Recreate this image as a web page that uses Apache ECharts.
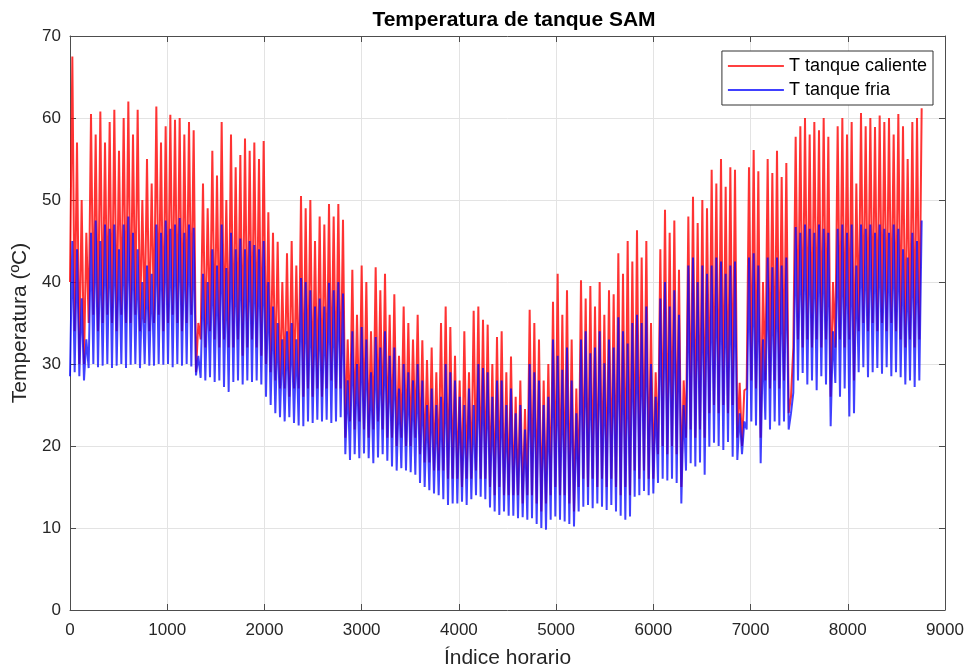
<!DOCTYPE html>
<html lang="es">
<head>
<meta charset="UTF-8">
<title>Temperatura de tanque SAM</title>
<script src="https://cdn.jsdelivr.net/npm/echarts@6/dist/echarts.min.js"></script>
<style>
  html, body { margin: 0; padding: 0; background: #fff; }
  #main { width: 975px; height: 671px; }
</style>
</head>
<body>
<div id="main"></div>
<script>
// one peak and one trough per 48 h block (ºC)
var blockHours = 48;

var hotPeak = [
  67.5, 57, 50, 46,
  60.5, 58, 60.8, 57, 59.5, 61, 56, 60, 62, 58,
  61, 50, 55, 52,
  61.4, 57, 59, 60.4, 59.8, 60, 58, 59.5, 58.5,
  35,
  52, 49, 56, 53, 59.5, 50, 58,
  54, 55.5, 57.5, 56, 57, 55, 57.2,
  48.5, 46, 44.9, 40,
  43.5, 45, 42,
  50.5, 49, 50, 45, 48, 47, 49.5, 48, 49.5, 47.6,
  33,
  41.5, 36, 42, 40, 34, 41.8, 39, 41, 36,
  38.5, 31, 37, 35, 33, 36,
  32.9, 30.5, 32, 29, 35,
  37, 34.5, 31,
  28, 34, 29, 36.5,
  37, 35.4, 34.8,
  30, 33.3, 34, 29, 30.9,
  26, 28, 24.5,
  36.6, 35, 33,
  28, 30,
  37.6, 41, 36, 39,
  33, 27,
  40.2, 38, 39.5, 37, 40, 36, 39, 38.5,
  43.5, 41, 45, 42.5,
  46.3, 43, 45,
  35, 29,
  44, 48.8, 46, 47.5, 41.5,
  28,
  48, 50.4, 47.2, 50, 49,
  53.7, 52, 55, 51.6, 54, 53.7,
  27.7, 26.8,
  54, 56.1, 53.5, 40, 55, 53.3, 56, 52.8, 54.5,
  26,
  57.7, 59, 60, 58, 59.5, 58.5, 60, 57.7,
  40,
  59, 60, 58, 59.5, 52,
  60.6, 59, 60, 58.9, 60.3, 59.5, 60, 58, 60.5, 59, 55, 59.5, 60, 61.2
];

var hotLow = [
  40, 34, 30, 30,
  35, 36, 34, 35, 36, 35, 34, 36, 35, 35,
  36, 34, 35, 34,
  35, 36, 34, 35, 36, 35, 34, 35, 36,
  29,
  33, 32, 34, 33, 32, 33, 32,
  32, 33, 31, 32, 33, 32, 31,
  30, 29, 28, 27,
  27, 26, 27,
  27, 26, 27, 26, 27, 26, 27, 28, 27, 27,
  21,
  23, 22, 23, 22, 21, 22, 23, 22, 21,
  21, 20, 21, 20, 20, 21,
  19, 18, 18, 17, 17,
  17, 16, 16,
  16, 15, 16, 16,
  17, 16, 16,
  15, 14, 15, 14, 14,
  14, 14, 13,
  14, 14, 13,
  12, 13,
  14, 15, 14, 14,
  13, 12,
  15, 16, 15, 16, 15, 16, 15, 16,
  15, 14, 15, 14,
  17, 16, 17,
  16, 16,
  19, 20, 19, 20, 19,
  15,
  21, 22, 21, 22, 21,
  24, 25, 24, 25, 24, 25,
  21, 20,
  27, 28, 27, 21, 28, 27, 28, 27, 28,
  24,
  32, 33, 32, 33, 32, 33, 32, 33,
  26,
  32, 33, 32, 33, 28,
  34, 35, 34, 35, 34, 35, 34, 35, 34, 33, 32, 33, 32, 33
];

var coldPeak = [
  45, 44, 38, 33,
  46, 47.5, 45, 47, 46.5, 47, 44, 47, 48, 46,
  44, 40, 42, 41,
  47, 46, 47.5, 46.5, 47, 47.8, 46, 47, 46.6,
  31,
  41, 40, 44, 42, 47, 41.7, 46,
  44, 45.3, 44, 45, 44.5, 44, 45,
  40, 37, 35, 33,
  34, 35, 33,
  40.5, 40, 39, 37, 38, 37, 39.9, 39, 40, 38.6,
  28,
  34, 30, 34.5, 33, 29, 33.3, 32, 34, 31,
  32, 27, 30, 29, 28, 30,
  28, 25, 27, 25, 26,
  30, 29, 28,
  26, 25, 27, 25,
  30, 29.5, 29,
  26, 28, 28, 25, 27,
  24, 25, 22,
  30, 29, 28,
  25, 26,
  33, 31, 29.3, 32,
  28, 24,
  33, 34, 31.3, 32, 34, 30.1, 33, 32,
  35.7, 34, 32.5, 35,
  36, 35, 37,
  30, 26,
  38, 40, 37, 39, 36,
  25,
  42, 43, 40, 42, 41,
  42, 43, 42.5, 41, 42, 42.5,
  24, 23,
  43, 43.5, 42, 33, 43, 41.8, 43, 42, 43,
  24,
  46.7, 46, 47, 46.5, 46, 47, 46.5, 46,
  34,
  46.5, 47, 46, 47, 42,
  47, 46.5, 47, 46, 47, 46.5, 46, 47, 46.5, 44, 43, 46, 45, 47.5
];

var coldLow = [
  28.5, 29, 28.5, 28,
  29.5, 30, 29.6, 29.8, 30, 29.5, 29.8, 30, 29.5, 29.9,
  30, 29.5, 30, 29.8,
  29.8, 30, 29.9, 30, 29.6, 30, 29.8, 30, 29.7,
  28.6,
  28.3, 28, 28.4, 27.8, 28, 27.2, 26.6,
  27.8, 28, 27.5, 28, 27.8, 28, 27.5,
  26, 25, 24, 23.5,
  23, 23.5, 22.8,
  22.5, 22.4, 23, 22.8, 23.2, 23, 23.2, 22.8, 23, 23.5,
  19,
  18.3, 19, 18.5, 19.1, 18.5, 17.9, 18.6, 19, 18.2,
  17.5, 17, 17.3, 17, 16.8, 16.5,
  15.5, 15, 14.6, 14.2, 14,
  13.5, 12.8, 13,
  13, 13.2, 12.8, 13.5,
  14, 13.8, 13.5,
  12.5, 12, 11.6, 12, 11.5,
  11.5, 11.2, 11.3,
  11, 11.2, 10.5,
  10, 9.8,
  11, 11.4, 11, 10.8,
  10.5, 10.2,
  12, 12.6, 12.8, 12.4, 13, 12.6, 12.2, 12.8,
  12, 11.5, 11, 11.4,
  13.8, 14, 14.5,
  14, 14.2,
  15.5, 16, 15.8, 16, 15.5,
  13,
  17, 17.9, 17.5, 18, 16.5,
  19.9, 20.4, 20, 19.5, 20.5, 18.7,
  18.3, 19,
  22, 23, 22.5, 17.9, 23.2, 22, 23, 22.5, 23,
  22,
  26.5, 28, 28.9, 27.5, 28, 26.8, 28.5, 27.5,
  22.4,
  27.7, 26, 27, 23.6, 24,
  29, 29.6, 28.4, 29, 29.5, 28.8, 29.6, 28.5, 29, 28.4, 27.5, 28, 27.2, 28
];

var xTicks = { min: 0, max: 9000, step: 1000 };
var yTicks = { min: 0, max: 70, step: 10 };

function buildLine(peaks, lows) {
  var pts = [];
  for (var k = 0; k < peaks.length; k++) {
    pts.push([k * blockHours, lows[k]]);
    pts.push([k * blockHours + blockHours / 2, peaks[k]]);
  }
  return pts;
}

var font = 'Liberation Sans, Arial, Helvetica, sans-serif';
var axisGray = '#4d4d4d';
var textGray = '#262626';
var plainNumber = function (v) { return String(v); };

var chart = echarts.init(document.getElementById('main'));

function valueAxis(t, extra) {
  var base = {
    type: 'value',
    min: t.min,
    max: t.max,
    interval: t.step,
    axisLine: { show: true, onZero: false, lineStyle: { color: axisGray, width: 1 } },
    axisTick: { show: true, inside: true, length: 6, lineStyle: { color: axisGray } },
    axisLabel: { color: textGray, fontSize: 17, fontFamily: font, formatter: plainNumber },
    splitLine: { show: true, lineStyle: { color: '#e3e3e3', width: 1 } }
  };
  return Object.assign(base, extra);
}

chart.setOption({
  animation: false,
  title: {
    text: 'Temperatura de tanque SAM',
    left: 509,
    top: 5,
    textAlign: 'center',
    textStyle: { fontSize: 21, fontWeight: 'bold', color: '#000', fontFamily: font }
  },
  grid: { left: 70, right: 30, top: 36, bottom: 61, containLabel: false, outerBoundsMode: 'none' },
  legend: {
    data: ['T tanque caliente', 'T tanque fria'],
    orient: 'vertical',
    right: 42,
    top: 51,
    icon: 'rect',
    itemWidth: 56,
    itemHeight: 1.5,
    itemGap: 6,
    padding: [6, 6, 6, 6],
    backgroundColor: '#fff',
    borderColor: '#333',
    borderWidth: 1,
    textStyle: { fontSize: 18, color: '#000', fontFamily: font }
  },
  xAxis: [
    valueAxis(xTicks, {
      name: 'Índice horario',
      nameLocation: 'middle',
      nameGap: 38,
      nameTextStyle: { fontSize: 21, color: textGray, fontFamily: font },
      axisLabel: { color: textGray, fontSize: 17, fontFamily: font, margin: 12, formatter: plainNumber }
    }),
    valueAxis(xTicks, {
      position: 'top',
      axisLabel: { show: false },
      splitLine: { show: false }
    })
  ],
  yAxis: [
    valueAxis(yTicks, {
      name: 'Temperatura (ºC)',
      nameLocation: 'middle',
      nameGap: 38,
      nameTextStyle: { fontSize: 21, color: textGray, fontFamily: font },
      axisLabel: { color: textGray, fontSize: 17, fontFamily: font, margin: 9, formatter: plainNumber }
    }),
    valueAxis(yTicks, {
      position: 'right',
      axisLabel: { show: false },
      splitLine: { show: false }
    })
  ],
  series: [
    {
      name: 'T tanque caliente',
      type: 'line',
      symbol: 'none',
      data: buildLine(hotPeak, hotLow),
      lineStyle: { color: '#ff0000', width: 2, opacity: 0.8 },
      itemStyle: { color: '#ff0000' },
      z: 2
    },
    {
      name: 'T tanque fria',
      type: 'line',
      symbol: 'none',
      data: buildLine(coldPeak, coldLow),
      lineStyle: { color: '#0000ff', width: 2, opacity: 0.75 },
      itemStyle: { color: '#0000ff' },
      z: 3
    }
  ]
});
</script>
</body>
</html>
